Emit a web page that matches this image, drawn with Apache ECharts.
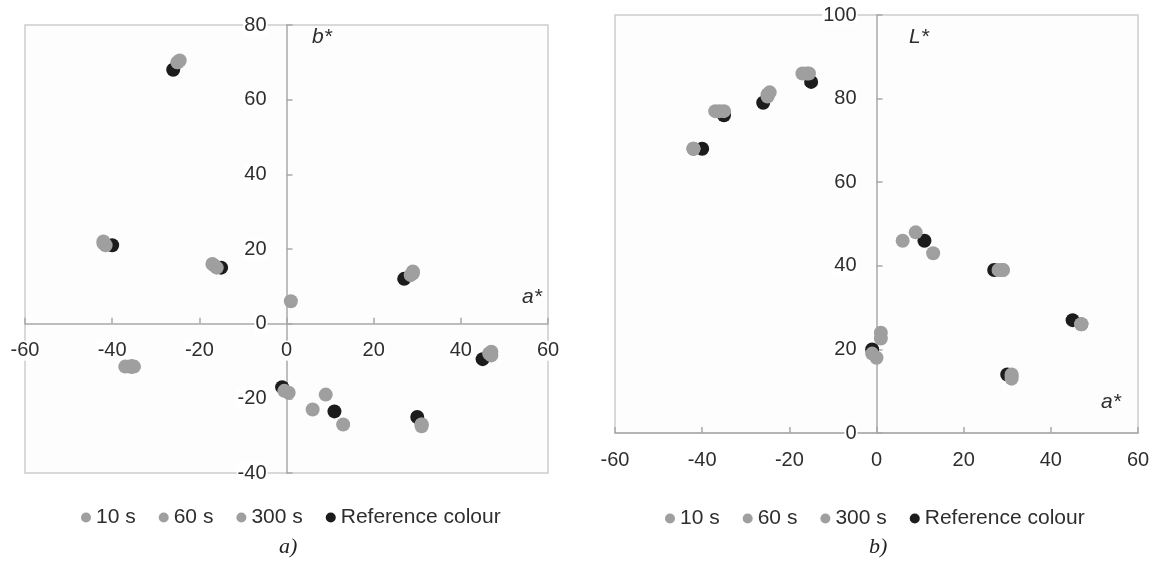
<!DOCTYPE html>
<html><head><meta charset="utf-8">
<script src="https://cdn.jsdelivr.net/npm/echarts@6/dist/echarts.min.js"></script>
<style>html,body{margin:0;padding:0;background:#fff;}#c{width:1159px;height:567px;}</style>
</head><body><div id="c"></div>
<script>
// Legend / series names
const seriesNames = ['10 s', '60 s', '300 s', 'Reference colour'];
// Axis tick values
const xTicks = [-60, -40, -20, 0, 20, 40, 60];
const yTicksA = [-40, -20, 0, 20, 40, 60, 80];
const yTicksB = [0, 20, 40, 60, 80, 100];

// Chart a) : [a*, b*]
const a_10s  = [[-42,22],[-37,-11.5],[-25,70],[-17,16],[1,6],[6,-23],[29,14],[31,-27],[47,-7.5]];
const a_60s  = [[-42,21.5],[-36,-11.5],[-25,70],[-16,15],[-0.5,-18],[9,-19],[28.5,13],[31,-27],[47,-8.5]];
const a_300s = [[-41.5,21],[-35,-11.5],[-24.5,70.5],[-16.5,15.5],[0.5,-18.5],[13,-27],[29,13.5],[31,-27.5],[46.5,-8]];
const a_ref  = [[-40,21],[-35.5,-11.5],[-26,68],[-15,15],[-1,-17],[11,-23.5],[27,12],[30,-25],[45,-9.5]];

// Chart b) : [a*, L*]
const b_10s  = [[-42,68],[-37,77],[-25,80.5],[-17,86],[1,24],[6,46],[28,39],[31,14],[47,26]];
const b_60s  = [[-42,68],[-36,77],[-25,81],[-16,86],[-1,19],[9,48],[29,39],[31,13],[47,26]];
const b_300s = [[-42,68],[-35,77],[-24.5,81.5],[-15.5,86],[0,18],[13,43],[29,39],[31,13.5],[47,26],[1,22.6]];
const b_ref  = [[-40,68],[-35,76],[-26,79],[-15,84],[-1,20],[11,46],[27,39],[30,14],[45,27]];

const GRAY = '#9f9f9f', BLACK = '#1c1c1c';
const FONT = 'Liberation Sans, Arial, sans-serif';

const GA = { left: 25, top: 25, width: 523, height: 448 };
const GB = { left: 615, top: 15, width: 523, height: 418 };

// offset (negative = inward) so that the axis crosses at zero of the other axis
function zeroOffset(ticks, size) {
  const lo = ticks[0], hi = ticks[ticks.length-1];
  return -((0 - lo) / (hi - lo)) * size;
}

function xAxisDef(gi, offset) {
  return {
    type: 'value', gridIndex: gi, min: xTicks[0], max: xTicks[xTicks.length-1], interval: 20,
    position: 'bottom', offset: offset,
    axisLine: { onZero: false, lineStyle: { color: '#a8a8a8', width: 1.5 } },
    axisTick: { show: true, inside: true, length: 6, lineStyle: { color: '#a8a8a8', width: 1.5 } },
    splitLine: { show: false },
    axisLabel: { margin: 17, color: '#2e2e2e', fontSize: 20, fontFamily: FONT,
      backgroundColor: '#fff', padding: [0, 1] }
  };
}
function yAxisDef(gi, ticks, offset) {
  return {
    type: 'value', gridIndex: gi, min: ticks[0], max: ticks[ticks.length-1], interval: 20,
    position: 'left', offset: offset,
    axisLine: { onZero: false, lineStyle: { color: '#a8a8a8', width: 1.5 } },
    axisTick: { show: true, inside: true, length: 6, lineStyle: { color: '#a8a8a8', width: 1.5 } },
    splitLine: { show: false },
    axisLabel: { margin: 19, color: '#2e2e2e', fontSize: 20, fontFamily: FONT,
      backgroundColor: '#fff', padding: [0, 1] }
  };
}
function sc(name, data, gi, color) {
  return { name, type: 'scatter', xAxisIndex: gi, yAxisIndex: gi, data,
    symbol: 'circle', symbolSize: 14, itemStyle: { color, opacity: 1 }, silent: true };
}

const legendCommon = {
  data: seriesNames, icon: 'circle', itemWidth: 10, itemHeight: 10, itemGap: 23,
  textStyle: { fontSize: 21, color: '#2e2e2e', fontFamily: FONT }, selectedMode: false
};
const gridCommon = { show: true, borderColor: '#cdcdcd', borderWidth: 1.5, backgroundColor: '#fdfdfd',
  containLabel: false, outerBoundsMode: 'none' };

const chart = echarts.init(document.getElementById('c'), null, { renderer: 'canvas' });
chart.setOption({
  animation: false,
  backgroundColor: '#fff',
  color: [GRAY, GRAY, GRAY, BLACK],
  grid: [
    Object.assign({}, GA, gridCommon),
    Object.assign({}, GB, gridCommon)
  ],
  xAxis: [
    xAxisDef(0, zeroOffset(yTicksA, GA.height)),
    xAxisDef(1, zeroOffset(yTicksB, GB.height))
  ],
  yAxis: [
    yAxisDef(0, yTicksA, zeroOffset(xTicks, GA.width)),
    yAxisDef(1, yTicksB, zeroOffset(xTicks, GB.width))
  ],
  legend: [
    Object.assign({ left: 76, top: 502 }, legendCommon),
    Object.assign({ left: 660, top: 503 }, legendCommon)
  ],
  series: [
    sc('Reference colour', a_ref, 0, BLACK),
    sc('10 s', a_10s, 0, GRAY),
    sc('60 s', a_60s, 0, GRAY),
    sc('300 s', a_300s, 0, GRAY),
    sc('Reference colour', b_ref, 1, BLACK),
    sc('10 s', b_10s, 1, GRAY),
    sc('60 s', b_60s, 1, GRAY),
    sc('300 s', b_300s, 1, GRAY)
  ],
  graphic: [
    { type: 'text', left: 312, top: 27, style: { text: 'b*', fontSize: 21, fontStyle: 'italic', fill: '#2e2e2e', fontFamily: FONT } },
    { type: 'text', left: 522, top: 287, style: { text: 'a*', fontSize: 21, fontStyle: 'italic', fill: '#2e2e2e', fontFamily: FONT } },
    { type: 'text', left: 909, top: 27, style: { text: 'L*', fontSize: 21, fontStyle: 'italic', fill: '#2e2e2e', fontFamily: FONT } },
    { type: 'text', left: 1101, top: 392, style: { text: 'a*', fontSize: 21, fontStyle: 'italic', fill: '#2e2e2e', fontFamily: FONT } },
    { type: 'text', left: 279, top: 536, style: { text: 'a)', fontSize: 22, fontStyle: 'italic', fill: '#222', fontFamily: 'Liberation Serif, DejaVu Serif, serif' } },
    { type: 'text', left: 869, top: 536, style: { text: 'b)', fontSize: 22, fontStyle: 'italic', fill: '#222', fontFamily: 'Liberation Serif, DejaVu Serif, serif' } }
  ]
});
</script>
</body></html>
